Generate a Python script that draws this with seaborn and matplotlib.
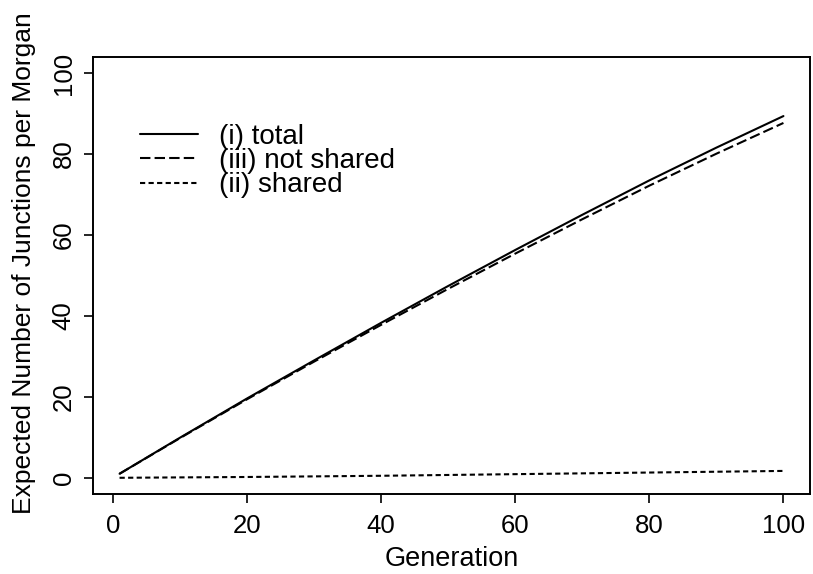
import matplotlib
matplotlib.use("Agg")
import matplotlib.pyplot as plt
import seaborn as sns
import pandas as pd

generation = [1, 10, 20, 30, 40, 50, 60, 70, 80, 90, 100]
total = [1.0, 9.9, 19.6, 29.0, 38.3, 47.4, 56.3, 65.0, 73.5, 81.6, 89.4]
not_shared = [1.0, 9.8, 19.4, 28.7, 37.8, 46.7, 55.4, 63.9, 72.2, 80.1, 87.7]
shared = [0.0, 0.1, 0.2, 0.35, 0.5, 0.7, 0.9, 1.1, 1.3, 1.5, 1.7]

series_labels = ["(i) total", "(iii) not shared", "(ii) shared"]
x_ticks = [0, 20, 40, 60, 80, 100]
y_ticks = [0, 20, 40, 60, 80, 100]

sns.set_style("white")
plt.rcParams["font.family"] = ["Liberation Sans", "DejaVu Sans"]
plt.rcParams["text.color"] = "black"
plt.rcParams["axes.labelcolor"] = "black"
plt.rcParams["xtick.color"] = "black"
plt.rcParams["ytick.color"] = "black"

df = pd.DataFrame({
    "Generation": generation * 3,
    "value": total + not_shared + shared,
    "series": [series_labels[0]] * len(generation)
    + [series_labels[1]] * len(generation)
    + [series_labels[2]] * len(generation),
})

fig = plt.figure(figsize=(8.13, 5.74), dpi=100)
ax = fig.add_axes([0.1144, 0.1394, 0.9963 - 0.1144, 0.9007 - 0.1394])

lw = 1.5
dashes = {series_labels[0]: "", series_labels[1]: (5, 2), series_labels[2]: (2.5, 1.6)}
sns.lineplot(data=df, x="Generation", y="value", hue="series", style="series",
             dashes=dashes, palette=["black"] * 3, linewidth=lw, ax=ax,
             hue_order=series_labels, style_order=series_labels)

ax.set_xlim(-2.96, 103.96)
ax.set_ylim(-4, 104)
ax.set_xticks(x_ticks)
ax.set_yticks(y_ticks)
ax.set_yticklabels([str(v) for v in y_ticks], rotation=90, va="center")
ax.tick_params(axis="both", direction="out", length=6.5, width=1.2,
               labelsize=18.5, colors="black", left=True, bottom=True)
ax.tick_params(axis="x", pad=8)
ax.tick_params(axis="y", pad=6)
for s in ax.spines.values():
    s.set_visible(True)
    s.set_color("black")
    s.set_linewidth(1.4)

ax.set_xlabel("Generation", fontsize=19.5, labelpad=6, color="black")
ax.set_ylabel("Expected Number of Junctions per Morgan", fontsize=19, color="black")
ax.yaxis.set_label_coords(-0.079, 0.529)

leg = ax.legend(loc="center left", bbox_to_anchor=(0.0656, 0.762), frameon=False,
                fontsize=20, handlelength=2.1, handletextpad=0.75,
                labelspacing=-0.06, borderpad=0, borderaxespad=0)
for line in leg.get_lines():
    line.set_linewidth(lw)
for t in leg.get_texts():
    t.set_color("black")

fig.savefig("out.png", dpi=100, facecolor="white")
